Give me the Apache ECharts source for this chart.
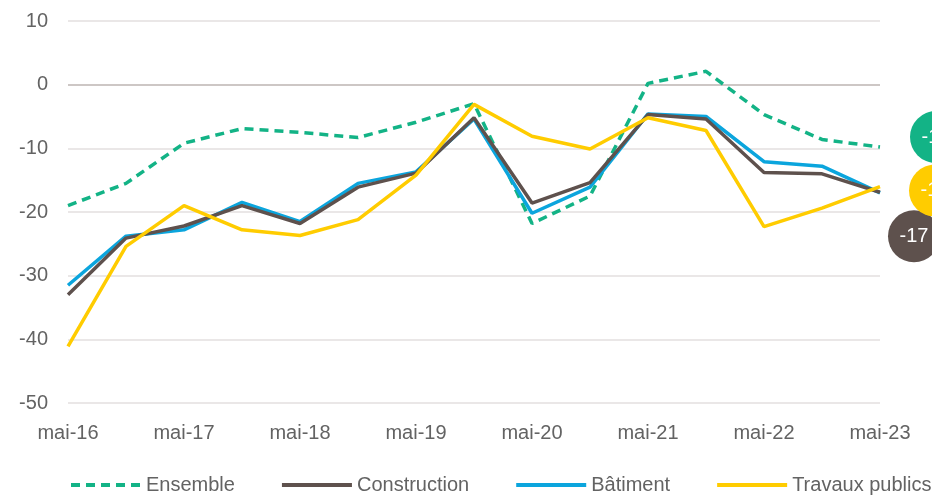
<!DOCTYPE html>
<html>
<head>
<meta charset="utf-8">
<script src="https://cdn.jsdelivr.net/npm/echarts@6/dist/echarts.min.js"></script>
<style>
  html, body { margin: 0; padding: 0; background: #fff; }
  #chart { width: 932px; height: 496px; }
</style>
</head>
<body>
<div id="chart"></div>
<script>
// semestres, de mai-16 à mai-23
const categories = [
  'mai-16', 'nov-16', 'mai-17', 'nov-17', 'mai-18', 'nov-18', 'mai-19', 'nov-19',
  'mai-20', 'nov-20', 'mai-21', 'nov-21', 'mai-22', 'nov-22', 'mai-23',
]
const ensemble = [-19.0, -15.5, -9.2, -6.9, -7.5, -8.3, -5.9, -3.0, -21.8, -17.5, 0.2, 2.1, -4.7, -8.6, -9.8]
const construction = [-33.0, -24.1, -22.2, -19.0, -21.8, -16.1, -13.9, -5.2, -18.6, -15.4, -4.7, -5.4, -13.8, -14.0, -16.9]
const batiment = [-31.5, -23.8, -22.8, -18.5, -21.5, -15.5, -13.7, -5.4, -20.2, -16.1, -4.6, -5.0, -12.1, -12.8, -17.0]
const travauxPublics = [-41.1, -25.4, -19.0, -22.8, -23.7, -21.2, -14.2, -3.1, -8.1, -10.1, -5.2, -7.2, -22.3, -19.4, -16.0]
const yTicks = { min: -50, max: 10, interval: 10 }

const font = "'Liberation Sans', Arial, sans-serif"
const textColor = '#636363'

const makeSeries = (name, values, color, dashed, offset) => ({
  name: name,
  type: 'line',
  data: values,
  symbol: 'none',
  smooth: false,
  lineStyle: {
    width: 3.5,
    color: color,
    type: dashed ? [9, 6] : 'solid',
  },
  itemStyle: { color: color },
  // pastille ronde en bout de courbe
  endLabel: {
    show: true,
    distance: 0,
    offset: offset,
    formatter: (p) => String(Math.round(p.value)),
    backgroundColor: color,
    borderRadius: 26,
    width: 52,
    height: 52,
    lineHeight: 52,
    align: 'center',
    verticalAlign: 'middle',
    color: '#fff',
    fontSize: 20,
    fontFamily: font,
  },
  emphasis: { disabled: true },
})

const chart = echarts.init(document.getElementById('chart'))

chart.setOption({
  animation: false,
  grid: {
    left: 68,
    right: 52,
    top: 21,
    bottom: 93,
    containLabel: false,
  },
  legend: {
    top: 475,
    left: 69,
    width: 863,
    padding: 0,
    itemWidth: 70,
    itemHeight: 4,
    itemGap: 45,
    lineStyle: { width: 4 },
    textStyle: {
      color: textColor,
      fontSize: 20,
      fontFamily: font,
    },
    data: ['Ensemble', 'Construction', 'Bâtiment', 'Travaux publics'],
  },
  xAxis: {
    type: 'category',
    boundaryGap: false,
    data: categories,
    axisLine: { show: false },
    axisTick: { show: false },
    axisLabel: {
      interval: 1,
      margin: 20,
      color: textColor,
      fontSize: 20,
      fontFamily: font,
    },
  },
  yAxis: {
    type: 'value',
    min: yTicks.min,
    max: yTicks.max,
    interval: yTicks.interval,
    axisLine: { show: false },
    axisTick: { show: false },
    axisLabel: {
      margin: 20,
      color: textColor,
      fontSize: 20,
      fontFamily: font,
    },
    splitLine: {
      lineStyle: {
        width: 1.5,
        // -50 … 10 : la ligne du zéro est plus foncée
        color: ['#e3dfdf', '#e3dfdf', '#e3dfdf', '#e3dfdf', '#e3dfdf', '#bdb5b2', '#e3dfdf'],
      },
    },
  },
  series: [
    makeSeries('Ensemble', ensemble, '#13b386', true, [56, -10]),
    makeSeries('Bâtiment', batiment, '#0ba5dd', false, [78, 44]),
    makeSeries('Construction', construction, '#5e514d', false, [34, 44]),
    makeSeries('Travaux publics', travauxPublics, '#ffcc00', false, [55, 4]),
  ],
})
</script>
</body>
</html>
